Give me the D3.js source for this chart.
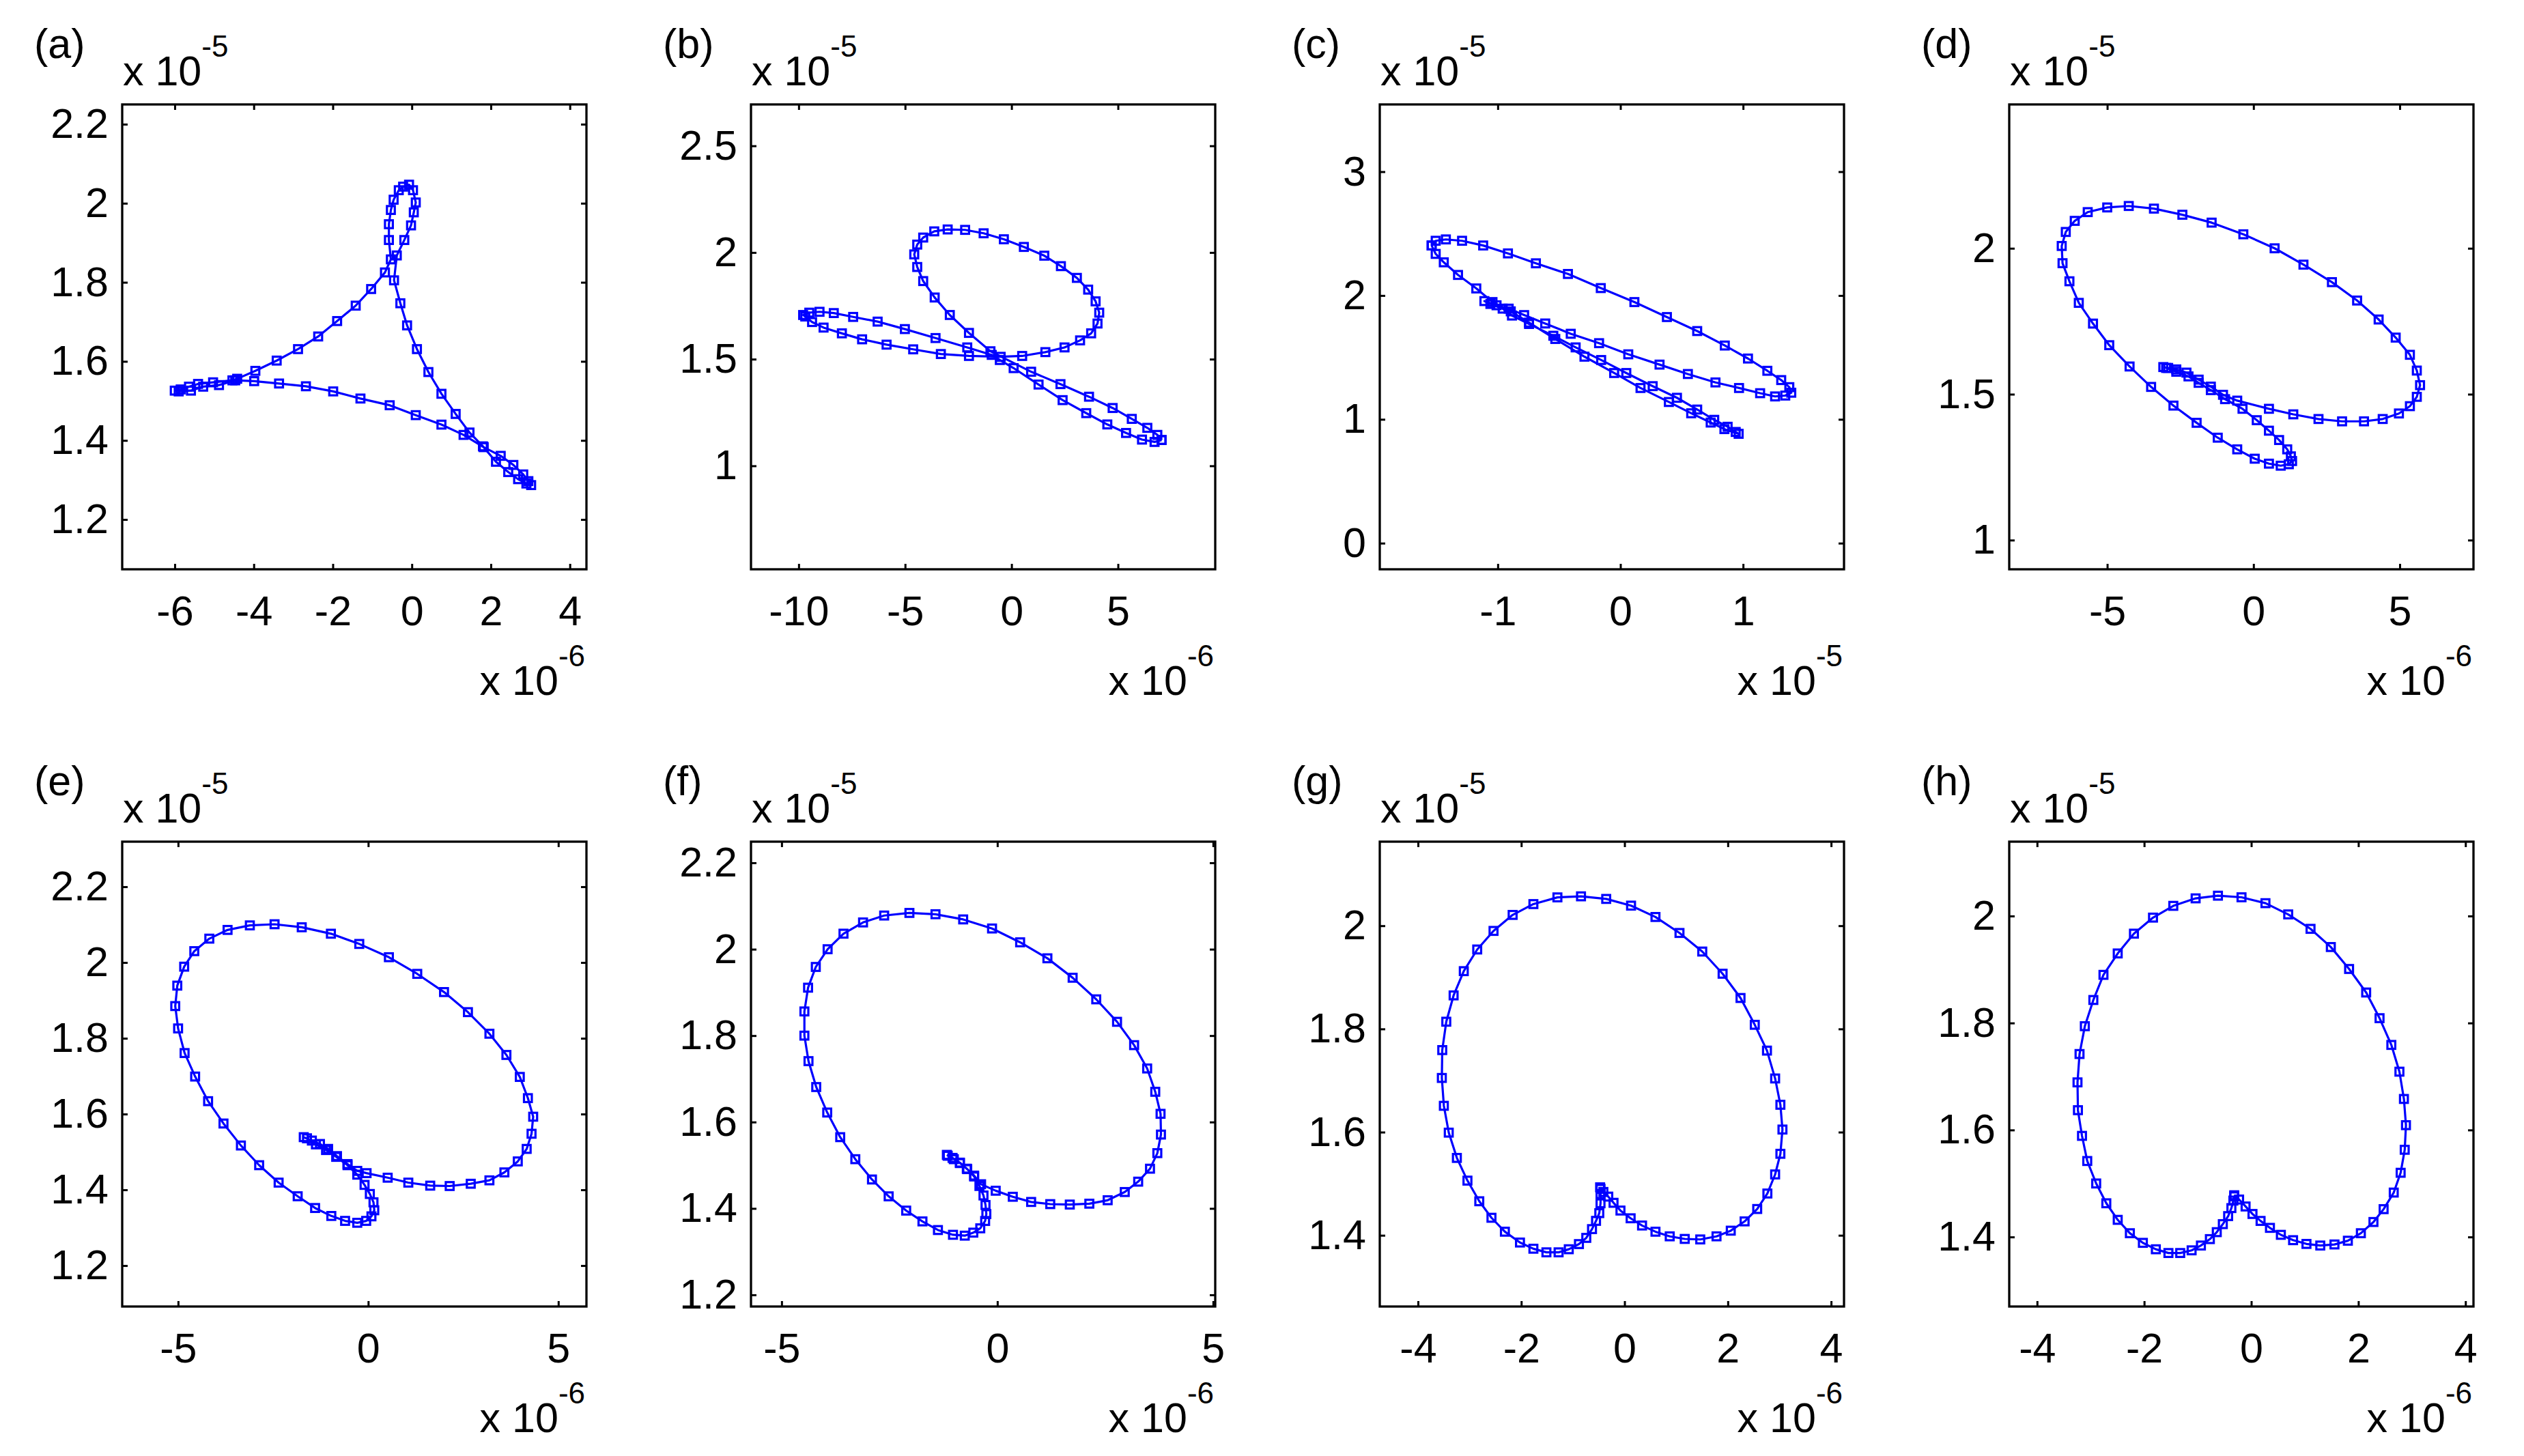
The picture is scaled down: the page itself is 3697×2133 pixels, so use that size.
<!DOCTYPE html>
<html>
<head>
<meta charset="utf-8">
<script src="https://cdn.jsdelivr.net/npm/d3@7"></script>
<style>
	body { margin: 0; background: #fff; }
	text { font-family: "Liberation Sans", Arial, Helvetica, sans-serif; fill: #000; }
</style>
</head>
<body>
<svg id="chart"></svg>
<script>
	// trajectories (x in units of the x exponent, y in 1e-5)
	var aX = [-6.00,-5.85,-5.64,-5.41,-5.03,-4.54,-4.42,-3.96,-3.42,-2.88,-2.37,-1.89,-1.42,-1.03,-0.68,-0.53,-0.58,-0.58,-0.53,-0.46,-0.33,-0.22,-0.07,0.03,0.10,0.05,-0.02,-0.19,-0.38,-0.45,-0.29,-0.12,0.13,0.42,0.75,1.11,1.46,1.80,2.13,2.44,2.69,2.90,3.02,2.95,2.82,2.57,2.25,1.82,1.31,0.75,0.10,-0.56,-1.30,-1.99,-2.68,-3.36,-3.99,-4.47,-4.88,-5.28,-5.59,-5.90];
	var aY = [1.526,1.529,1.536,1.543,1.547,1.552,1.556,1.576,1.602,1.631,1.663,1.702,1.741,1.783,1.825,1.858,1.907,1.947,1.983,2.009,2.033,2.042,2.047,2.033,2.002,1.977,1.944,1.907,1.868,1.805,1.747,1.691,1.631,1.573,1.518,1.467,1.420,1.385,1.346,1.320,1.302,1.291,1.287,1.297,1.314,1.338,1.361,1.383,1.414,1.440,1.464,1.489,1.506,1.524,1.537,1.544,1.550,1.552,1.540,1.536,1.526,1.524];

	var bX = [7.05,6.85,6.38,5.65,4.75,3.64,2.30,0.92,-0.99,-2.00,-2.90,-3.61,-4.15,-4.43,-4.57,-4.43,-4.15,-3.63,-3.00,-2.18,-1.31,-0.36,0.58,1.54,2.32,3.07,3.60,3.95,4.12,4.04,3.74,3.22,2.49,1.59,0.50,-0.51,-2.00,-3.32,-4.62,-5.87,-7.02,-7.97,-8.83,-9.37,-9.69,-9.79,-9.50,-9.02,-8.35,-7.44,-6.29,-5.01,-3.57,-2.08,-0.93,-0.55,0.10,1.27,2.40,3.51,4.50,5.38,6.13,6.72,7.05];
	var bY = [1.121,1.145,1.178,1.220,1.271,1.324,1.383,1.441,1.537,1.623,1.707,1.789,1.866,1.932,1.991,2.037,2.070,2.099,2.108,2.106,2.090,2.062,2.026,1.985,1.936,1.881,1.826,1.771,1.718,1.667,1.621,1.588,1.555,1.533,1.515,1.511,1.515,1.524,1.546,1.568,1.593,1.621,1.648,1.674,1.700,1.707,1.718,1.722,1.716,1.698,1.676,1.641,1.599,1.555,1.520,1.496,1.458,1.381,1.308,1.247,1.194,1.154,1.123,1.112,1.121];

	var cX = [-1.539,-1.506,-1.423,-1.291,-1.119,-0.917,-0.689,-0.428,-0.160,0.114,0.379,0.626,0.851,1.040,1.198,1.311,1.377,1.393,1.344,1.261,1.139,0.967,0.775,0.550,0.319,0.064,-0.174,-0.405,-0.613,-0.785,-0.911,-1.010,-1.109,-1.060,-0.960,-0.884,-0.745,-0.547,-0.365,-0.157,0.048,0.263,0.461,0.626,0.765,0.874,0.940,0.964,0.848,0.736,0.577,0.395,0.164,-0.051,-0.293,-0.531,-0.745,-0.894,-1.043,-1.175,-1.324,-1.440,-1.506,-1.539];
	var cY = [2.404,2.442,2.453,2.442,2.404,2.340,2.260,2.174,2.060,1.947,1.826,1.713,1.596,1.491,1.392,1.317,1.260,1.215,1.192,1.185,1.211,1.253,1.298,1.366,1.442,1.525,1.615,1.691,1.774,1.842,1.894,1.921,1.955,1.932,1.894,1.838,1.770,1.675,1.581,1.479,1.374,1.268,1.174,1.079,0.996,0.940,0.898,0.883,0.921,0.974,1.049,1.140,1.253,1.374,1.506,1.649,1.781,1.872,1.947,2.057,2.166,2.268,2.336,2.404];

	var dX = [-3.083,-2.917,-2.639,-2.292,-1.875,-1.458,-1.042,-0.556,0.528,1.361,2.222,3.028,3.778,4.417,4.972,5.347,5.583,5.694,5.583,5.347,4.861,4.278,3.542,2.681,1.708,0.722,-0.347,-1.431,-2.431,-3.403,-4.264,-5.000,-5.667,-6.111,-6.417,-6.556,-6.528,-6.292,-5.972,-5.486,-4.931,-4.236,-3.500,-2.736,-1.944,-1.222,-0.556,0.042,0.528,0.931,1.208,1.319,1.278,1.153,0.875,0.528,0.111,-0.375,-0.972,-1.458,-1.875,-2.222,-2.639,-2.986];
	var dY = [1.593,1.590,1.585,1.574,1.550,1.526,1.498,1.478,1.450,1.431,1.415,1.407,1.407,1.415,1.434,1.459,1.491,1.531,1.581,1.635,1.694,1.756,1.821,1.884,1.944,2.000,2.048,2.088,2.115,2.136,2.145,2.140,2.124,2.094,2.056,2.008,1.949,1.887,1.813,1.742,1.668,1.595,1.525,1.461,1.402,1.351,1.311,1.279,1.262,1.255,1.260,1.271,1.287,1.311,1.343,1.375,1.411,1.450,1.483,1.514,1.539,1.561,1.577,1.590];

	var eX = [-1.695,-1.482,-1.269,-1.055,-0.821,-0.544,-0.288,-0.043,0.512,1.055,1.631,2.143,2.697,3.188,3.582,3.934,4.168,4.296,4.339,4.200,3.987,3.635,3.188,2.623,1.994,1.290,0.544,-0.235,-0.981,-1.748,-2.463,-3.113,-3.699,-4.179,-4.574,-4.840,-5.021,-5.075,-5.000,-4.829,-4.552,-4.211,-3.806,-3.348,-2.868,-2.356,-1.855,-1.397,-0.970,-0.608,-0.288,-0.053,0.085,0.160,0.139,0.043,-0.096,-0.288,-0.544,-0.842,-1.109,-1.375,-1.610];
	var eY = [1.539,1.530,1.521,1.508,1.489,1.468,1.450,1.444,1.432,1.419,1.411,1.410,1.416,1.425,1.446,1.475,1.508,1.548,1.593,1.642,1.698,1.756,1.812,1.869,1.922,1.970,2.014,2.049,2.076,2.093,2.101,2.098,2.086,2.063,2.030,1.989,1.939,1.885,1.826,1.761,1.699,1.634,1.575,1.517,1.465,1.419,1.383,1.352,1.331,1.318,1.313,1.318,1.330,1.346,1.367,1.389,1.413,1.440,1.465,1.487,1.505,1.520,1.536];

	var fX = [-1.170,-1.009,-0.868,-0.708,-0.538,-0.377,-0.038,0.358,0.783,1.226,1.679,2.132,2.557,2.953,3.264,3.538,3.708,3.792,3.783,3.660,3.472,3.170,2.774,2.292,1.745,1.160,0.528,-0.123,-0.792,-1.434,-2.038,-2.623,-3.113,-3.566,-3.934,-4.208,-4.387,-4.472,-4.472,-4.377,-4.198,-3.943,-3.642,-3.292,-2.906,-2.519,-2.113,-1.736,-1.377,-1.028,-0.755,-0.557,-0.396,-0.283,-0.255,-0.274,-0.321,-0.415,-0.538,-0.698,-0.868,-1.038,-1.151];
	var fY = [1.524,1.514,1.505,1.492,1.476,1.456,1.441,1.427,1.415,1.410,1.409,1.411,1.419,1.438,1.462,1.492,1.528,1.571,1.619,1.670,1.724,1.778,1.832,1.884,1.934,1.979,2.016,2.048,2.069,2.081,2.084,2.078,2.062,2.036,2.000,1.959,1.911,1.856,1.800,1.741,1.681,1.622,1.565,1.514,1.467,1.428,1.395,1.370,1.350,1.339,1.337,1.344,1.354,1.371,1.387,1.408,1.430,1.452,1.474,1.491,1.506,1.517,1.522];

	var gX = [-0.473,-0.410,-0.315,-0.213,-0.079,0.118,0.339,0.599,0.875,1.166,1.466,1.781,2.057,2.325,2.569,2.766,2.916,3.018,3.058,3.018,2.916,2.758,2.522,2.246,1.899,1.505,1.064,0.599,0.126,-0.355,-0.843,-1.300,-1.765,-2.167,-2.537,-2.853,-3.113,-3.310,-3.452,-3.530,-3.538,-3.499,-3.404,-3.247,-3.042,-2.813,-2.577,-2.317,-2.025,-1.765,-1.513,-1.277,-1.080,-0.883,-0.741,-0.630,-0.552,-0.489,-0.465,-0.465,-0.465];
	var gY = [1.493,1.484,1.475,1.463,1.448,1.433,1.419,1.407,1.398,1.393,1.392,1.398,1.409,1.427,1.451,1.481,1.518,1.558,1.605,1.653,1.704,1.758,1.808,1.860,1.907,1.950,1.986,2.017,2.039,2.052,2.057,2.055,2.042,2.021,1.990,1.954,1.912,1.865,1.814,1.759,1.705,1.651,1.599,1.550,1.506,1.466,1.434,1.407,1.386,1.374,1.367,1.367,1.373,1.383,1.395,1.412,1.428,1.443,1.462,1.480,1.490];

	var hX = [-0.318,-0.227,-0.106,0.023,0.174,0.349,0.553,0.781,1.031,1.289,1.554,1.804,2.047,2.282,2.472,2.661,2.790,2.866,2.889,2.851,2.767,2.616,2.396,2.146,1.827,1.486,1.107,0.690,0.265,-0.182,-0.622,-1.039,-1.456,-1.835,-2.191,-2.494,-2.760,-2.949,-3.108,-3.207,-3.245,-3.237,-3.161,-3.063,-2.896,-2.707,-2.494,-2.267,-2.024,-1.782,-1.547,-1.327,-1.114,-0.940,-0.773,-0.644,-0.531,-0.432,-0.371,-0.334,-0.318];
	var hY = [1.478,1.470,1.457,1.443,1.430,1.417,1.404,1.394,1.387,1.384,1.386,1.393,1.407,1.428,1.452,1.483,1.520,1.563,1.609,1.658,1.709,1.759,1.809,1.857,1.901,1.942,1.976,2.003,2.024,2.035,2.038,2.033,2.019,1.997,1.967,1.930,1.890,1.843,1.794,1.742,1.689,1.637,1.589,1.542,1.500,1.463,1.432,1.407,1.389,1.377,1.370,1.370,1.375,1.384,1.396,1.409,1.424,1.439,1.454,1.468,1.476];

	var panelNames = ["(a)", "(b)", "(c)", "(d)", "(e)", "(f)", "(g)", "(h)"];
	var xDomains = [[-7.33, 4.42], [-12.24, 9.57], [-1.962, 1.823], [-8.35, 7.52], [-6.47, 5.74], [-5.71, 5.05], [-4.74, 4.25], [-4.52, 4.15]];
	var yDomains = [[1.074, 2.25], [0.515, 2.694], [-0.211, 3.543], [0.90, 2.493], [1.092, 2.319], [1.173, 2.249], [1.262, 2.163], [1.270, 2.139]];
	var xTicks = [[-6, -4, -2, 0, 2, 4], [-10, -5, 0, 5], [-1, 0, 1], [-5, 0, 5], [-5, 0, 5], [-5, 0, 5], [-4, -2, 0, 2, 4], [-4, -2, 0, 2, 4]];
	var yTicks = [[1.2, 1.4, 1.6, 1.8, 2, 2.2], [1, 1.5, 2, 2.5], [0, 1, 2, 3], [1, 1.5, 2], [1.2, 1.4, 1.6, 1.8, 2, 2.2], [1.2, 1.4, 1.6, 1.8, 2, 2.2], [1.4, 1.6, 1.8, 2], [1.4, 1.6, 1.8, 2]];
	var xExponents = ["-6", "-6", "-5", "-6", "-6", "-6", "-6", "-6"];
	var yExponents = ["-5", "-5", "-5", "-5", "-5", "-5", "-5", "-5"];
	var seriesX = [aX, bX, cX, dX, eX, fX, gX, hX];
	var seriesY = [aY, bY, cY, dY, eY, fY, gY, hY];

	var W = 3697, H = 2133;
	var colLeft = [179, 1100, 2021, 2943];
	var rowTop = [153, 1233];
	var boxW = 680, boxH = 681;
	var fontSize = 61, supSize = 44;
	var blue = "#0000ff";

	var svg = d3.select("#chart")
		.attr("width", W)
		.attr("height", H);

	svg.append("rect")
		.attr("width", W)
		.attr("height", H)
		.attr("fill", "#fff");

	// MATLAB style tick labels: plain hyphen, no trailing zeros
	function fmt(v) {
		return String(+v.toFixed(3));
	}

	function styleAxis(sel) {
		sel.attr("font-size", fontSize)
			.attr("font-family", null);
		sel.select(".domain").remove();
		sel.selectAll(".tick line")
			.attr("stroke", "#000")
			.attr("stroke-width", 3);
		sel.selectAll(".tick text")
			.attr("fill", "#000");
	}

	panelNames.forEach(function(name, i) {
		var left = colLeft[i % 4];
		var top = rowTop[Math.floor(i / 4)];

		var x = d3.scaleLinear()
			.domain(xDomains[i])
			.range([0, boxW]);
		var y = d3.scaleLinear()
			.domain(yDomains[i])
			.range([boxH, 0]);

		var g = svg.append("g")
			.attr("transform", "translate(" + left + "," + top + ")");

		//axis, ticks pointing inward on all four sides
		g.append("g")
			.attr("transform", "translate(0," + boxH + ")")
			.call(d3.axisBottom(x).tickValues(xTicks[i]).tickFormat(fmt)
				.tickSizeInner(-8).tickSizeOuter(0).tickPadding(39))
			.call(styleAxis);

		g.append("g")
			.call(d3.axisTop(x).tickValues(xTicks[i]).tickFormat("")
				.tickSizeInner(-8).tickSizeOuter(0))
			.call(styleAxis);

		g.append("g")
			.call(d3.axisLeft(y).tickValues(yTicks[i]).tickFormat(fmt)
				.tickSizeInner(-8).tickSizeOuter(0).tickPadding(20))
			.call(styleAxis);

		g.append("g")
			.attr("transform", "translate(" + boxW + ",0)")
			.call(d3.axisRight(y).tickValues(yTicks[i]).tickFormat("")
				.tickSizeInner(-8).tickSizeOuter(0))
			.call(styleAxis);

		g.append("rect")
			.attr("width", boxW)
			.attr("height", boxH)
			.attr("fill", "none")
			.attr("stroke", "#000")
			.attr("stroke-width", 3.3);

		//線
		var pts = seriesX[i].map(function(v, k) {
			return [v, seriesY[i][k]];
		});

		var line = d3.line()
			.x(function(d) { return x(d[0]); })
			.y(function(d) { return y(d[1]); });

		g.append("path")
			.datum(pts)
			.attr("d", line)
			.attr("fill", "none")
			.attr("stroke", blue)
			.attr("stroke-width", 3.2)
			.attr("stroke-linejoin", "round");

		var ms = 11.5;
		g.selectAll("rect.marker")
			.data(pts)
			.enter()
			.append("rect")
			.attr("class", "marker")
			.attr("x", function(d) { return x(d[0]) - ms / 2; })
			.attr("y", function(d) { return y(d[1]) - ms / 2; })
			.attr("width", ms)
			.attr("height", ms)
			.attr("fill", "none")
			.attr("stroke", blue)
			.attr("stroke-width", 3.2);

		//exponent labels
		var ty = g.append("text")
			.attr("x", 1)
			.attr("y", -28)
			.attr("font-size", fontSize);
		ty.append("tspan").text("x 10");
		ty.append("tspan")
			.attr("dy", -42)
			.attr("font-size", supSize)
			.text(yExponents[i]);

		var tx = g.append("text")
			.attr("x", boxW - 2)
			.attr("y", boxH + 184)
			.attr("text-anchor", "end")
			.attr("font-size", fontSize);
		tx.append("tspan").text("x 10");
		tx.append("tspan")
			.attr("dy", -42)
			.attr("font-size", supSize)
			.text(xExponents[i]);

		g.append("text")
			.attr("x", -129)
			.attr("y", -68)
			.attr("font-size", fontSize)
			.text(name);
	});
</script>
</body>
</html>
